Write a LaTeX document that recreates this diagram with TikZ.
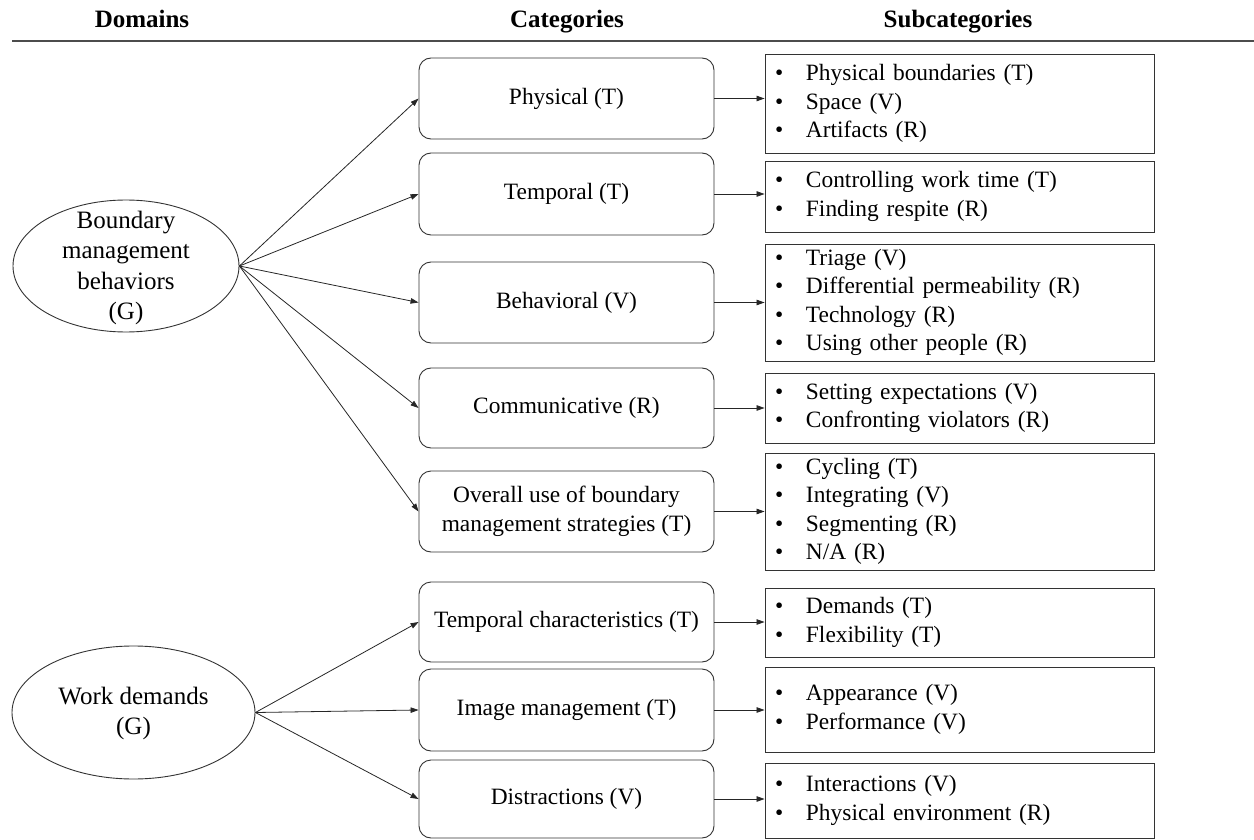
\documentclass[tikz,border=0pt]{standalone}
\usepackage{fontspec}
\setmainfont{Liberation Serif}
\usetikzlibrary{shapes.geometric,arrows.meta}
\newcommand\subitm{\makebox[31pt][l]{•}}
\begin{document}
\begin{tikzpicture}[x=1pt,y=-1pt,
  catbox/.style={draw=black!80, line width=0.9pt, rounded corners=12pt, minimum width=295pt,
    align=center, inner sep=0pt, font=\fontsize{23.4}{28.5}\selectfont},
  subbox/.style={draw=black!80, line width=0.9pt, text width=369pt, inner xsep=10pt, inner ysep=0pt,
    align=left, font=\fontsize{23.4}{28.5}\selectfont},
  domell/.style={draw=black!80, line width=0.9pt, ellipse, inner sep=0pt},
  domtxt/.style={align=center, font=\fontsize{25}{30.5}\selectfont},
  headtxt/.style={anchor=base, font=\fontsize{25}{30}\selectfont\bfseries},
  arr/.style={draw=black!85, line width=0.8pt, -{Triangle[length=8pt,width=5.5pt]}}]
\useasboundingbox (0,0) rectangle (1254,840);

% headers
\node[headtxt] (h1) at (142,28) {Domains};
\node[headtxt] (h2) at (567,28) {Categories};
\node[headtxt] (h3) at (958,28) {Subcategories};
\coordinate (rl) at (12,41);
\coordinate (rr) at (1254,41);
\draw[black!70, line width=1.1pt] (rl) -- (rr);

% domains
\node[domell, minimum width=226pt, minimum height=132pt] (e1) at (126,266) {};
\node[domtxt] (e1t) at ([yshift=-2pt]e1.center) {Boundary\\management\\behaviors\\(G)};
\node[domell, minimum width=243pt, minimum height=133pt] (e2) at (133.5,712.5) {};
\node[domtxt] (e2t) at ([yshift=-1pt]e2.center) {Work demands\\(G)};

% categories
\node[catbox, minimum height=81pt] (c1) at (566.5,98.5) {Physical (T)};
\node[catbox, minimum height=82pt] (c2) at (566.5,194) {Temporal (T)};
\node[catbox, minimum height=81pt] (c3) at (566.5,302.5) {Behavioral (V)};
\node[catbox, minimum height=80pt] (c4) at (566.5,408) {Communicative (R)};
\node[catbox, minimum height=81pt] (c5) at (566.5,511.5) {Overall use of boundary\\management strategies (T)};
\node[catbox, minimum height=80pt] (c6) at (566.5,622) {Temporal characteristics (T)};
\node[catbox, minimum height=82pt] (c7) at (566.5,710) {Image management (T)};
\node[catbox, minimum height=78pt] (c8) at (566.5,799) {Distractions (V)};

% subcategories
\node[subbox, minimum height=99pt] (s1) at (959.5,103.5) {\subitm Physical boundaries (T)\\\subitm Space (V)\\\subitm Artifacts (R)};
\node[subbox, minimum height=71pt] (s2) at (959.5,196.5) {\subitm Controlling work time (T)\\\subitm Finding respite (R)};
\node[subbox, minimum height=117pt] (s3) at (959.5,302.5) {\subitm Triage (V)\\\subitm Differential permeability (R)\\\subitm Technology (R)\\\subitm Using other people (R)};
\node[subbox, minimum height=70pt] (s4) at (959.5,408) {\subitm Setting expectations (V)\\\subitm Confronting violators (R)};
\node[subbox, minimum height=117pt] (s5) at (959.5,511.5) {\subitm Cycling (T)\\\subitm Integrating (V)\\\subitm Segmenting (R)\\\subitm N/A (R)};
\node[subbox, minimum height=69pt] (s6) at (959.5,622.5) {\subitm Demands (T)\\\subitm Flexibility (T)};
\node[subbox, minimum height=85pt] (s7) at (959.5,709.5) {\subitm Appearance (V)\\\subitm Performance (V)};
\node[subbox, minimum height=75pt] (s8) at (959.5,800.5) {\subitm Interactions (V)\\\subitm Physical environment (R)};

% domain -> category
\foreach \c in {c1,c2,c3,c4,c5} \draw[arr] (e1.east) -- (\c.west);
\foreach \c in {c6,c7,c8} \draw[arr] (e2.east) -- (\c.west);

% category -> subcategory
\foreach \i in {1,...,8} \draw[arr] (c\i.east) -- (c\i.east -| s\i.west);
\end{tikzpicture}
\end{document}
